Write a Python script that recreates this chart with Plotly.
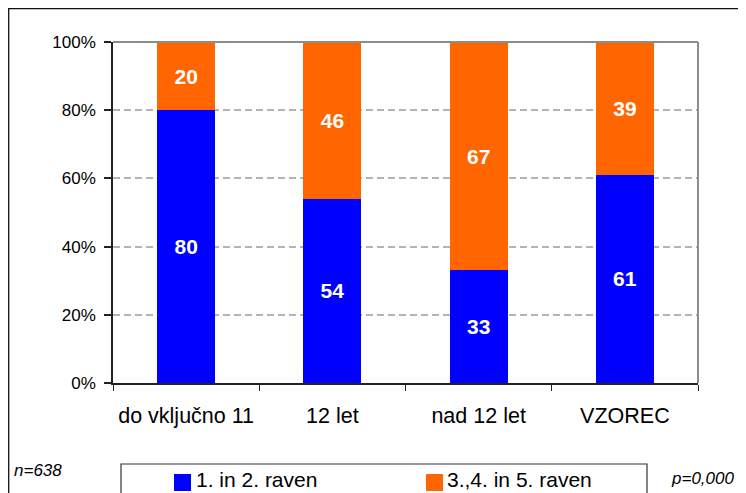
import plotly.graph_objects as go

categories = ["do vključno 11", "12 let", "nad 12 let", "VZOREC"]
series_names = ["1. in 2. raven", "3.,4. in 5. raven"]
level_12 = [80, 54, 33, 61]
level_345 = [20, 46, 67, 39]
y_ticks = [0, 20, 40, 60, 80, 100]
y_tick_labels = ["0%", "20%", "40%", "60%", "80%", "100%"]
note_left = "n=638"
note_right = "p=0,000"

BLUE = "#0000FF"
ORANGE = "#FF6600"
FONT = "Liberation Sans, Arial, sans-serif"

# page body has an 8px margin; work in screen pixels and convert
OFF = 8
W, H = 746 - OFF, 493 - OFF
L, R, T, B = 113 - OFF, 698 - OFF, 42 - OFF, 383 - OFF


def px(x):
    return (x - OFF - L) / (R - L)


def py(y):
    return (B - (y - OFF)) / (B - T)


fig = go.Figure()
for name, vals, col in [(series_names[0], level_12, BLUE), (series_names[1], level_345, ORANGE)]:
    fig.add_trace(go.Bar(
        x=categories, y=vals, name=name, marker=dict(color=col, line=dict(width=0)),
        text=[str(v) for v in vals], textposition="inside", insidetextanchor="middle",
        textangle=0, constraintext="none",
        textfont=dict(family=FONT, size=21, color="white", weight="bold"),
        hoverinfo="skip",
    ))

fig.update_layout(
    width=W, height=H, barmode="stack", bargap=0.604,
    margin=dict(l=L, r=W - R, t=T, b=H - B, pad=0),
    paper_bgcolor="white", plot_bgcolor="white",
    showlegend=False,
    font=dict(family=FONT, color="black"),
)
fig.update_xaxes(
    type="category", showgrid=False, showline=True, linecolor="#222222", linewidth=1.5,
    ticks="outside", tickson="boundaries", ticklen=6, tickcolor="#222222", tickwidth=1,
    tickfont=dict(family=FONT, size=21.5, color="black"), ticklabelstandoff=12,
)
fig.update_yaxes(
    range=[0, 100], tickvals=y_ticks, ticktext=y_tick_labels,
    showline=True, linecolor="#222222", linewidth=1.5,
    ticks="outside", ticklen=7, tickcolor="#222222", tickwidth=1.5,
    showgrid=True, gridcolor="#b4b4b4", gridwidth=1.5, griddash="7px,4px",
    tickfont=dict(family=FONT, size=17, color="black"), ticklabelstandoff=5,
    zeroline=False,
)

shapes = [
    # plot area top and right border
    dict(type="line", xref="paper", yref="paper", x0=0, x1=1, y0=1, y1=1,
         line=dict(color="#8c8c8c", width=2)),
    dict(type="line", xref="paper", yref="paper", x0=1, x1=1, y0=0, y1=1,
         line=dict(color="#8c8c8c", width=2)),
    # outer chart border
    dict(type="rect", xref="paper", yref="paper", x0=px(8.7), x1=px(770), y0=py(520), y1=py(8.7),
         line=dict(color="#111111", width=1.3), fillcolor="rgba(0,0,0,0)"),
    # legend box
    dict(type="rect", xref="paper", yref="paper", x0=px(121), x1=px(647), y0=py(520), y1=py(464),
         line=dict(color="#333333", width=1.2), fillcolor="rgba(0,0,0,0)"),
    # legend swatches
    dict(type="rect", xref="paper", yref="paper", x0=px(174), x1=px(191), y0=py(491), y1=py(474),
         line=dict(width=0), fillcolor=BLUE),
    dict(type="rect", xref="paper", yref="paper", x0=px(426), x1=px(443), y0=py(491), y1=py(474),
         line=dict(width=0), fillcolor=ORANGE),
]
fig.update_layout(shapes=shapes)

annotations = [
    dict(x=px(194), y=py(479), xref="paper", yref="paper", text=series_names[0], showarrow=False,
         xanchor="left", yanchor="middle", font=dict(family=FONT, size=21, color="black")),
    dict(x=px(445), y=py(479), xref="paper", yref="paper", text=series_names[1], showarrow=False,
         xanchor="left", yanchor="middle", font=dict(family=FONT, size=21, color="black")),
    dict(x=px(12), y=py(470), xref="paper", yref="paper", text="<i>" + note_left + "</i>", showarrow=False,
         xanchor="left", yanchor="middle", font=dict(family=FONT, size=17, color="black")),
    dict(x=px(736), y=py(478), xref="paper", yref="paper", text="<i>" + note_right + "</i>", showarrow=False,
         xanchor="right", yanchor="middle", font=dict(family=FONT, size=17, color="black")),
]
fig.update_layout(annotations=annotations)

fig.write_html(
    "out.html",
    post_script="document.documentElement.style.overflow='hidden';document.body.style.overflow='hidden';",
)
